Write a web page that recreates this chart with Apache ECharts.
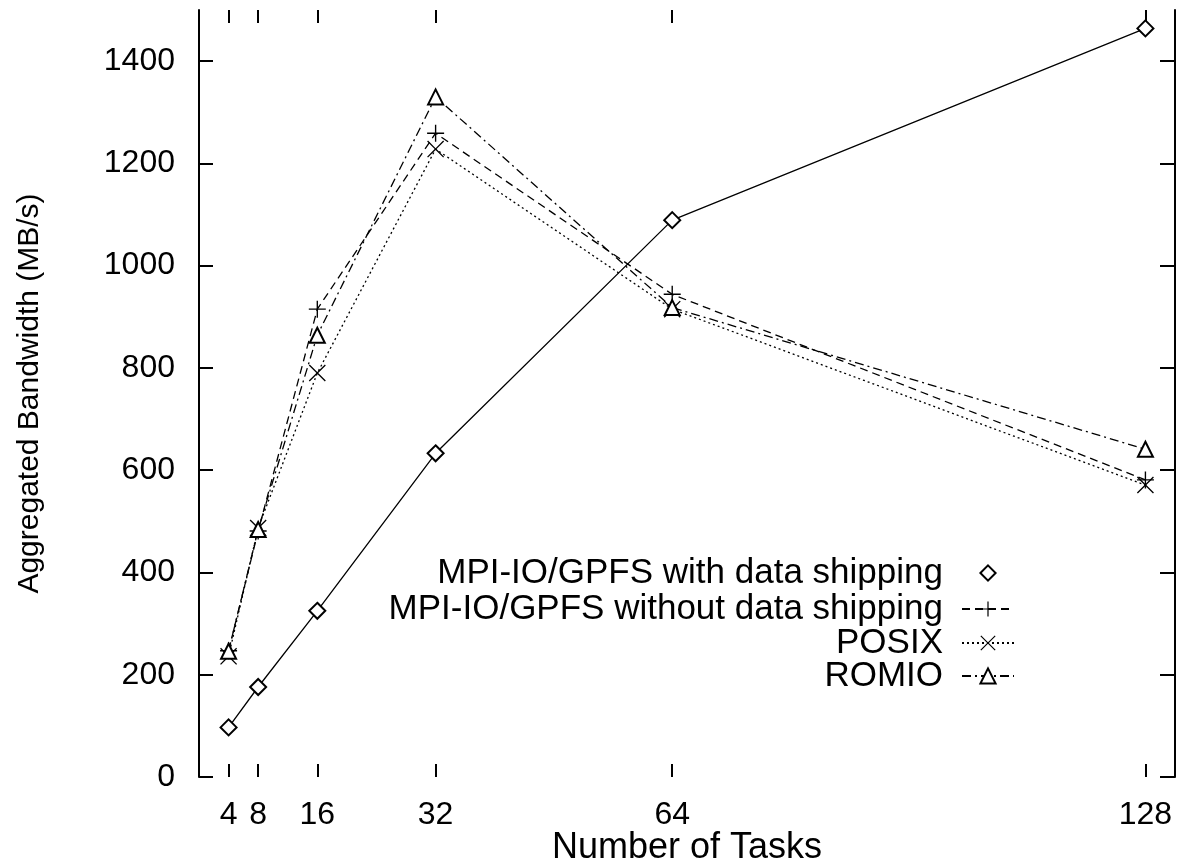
<!DOCTYPE html>
<html>
<head>
<meta charset="utf-8">
<script src="https://cdn.jsdelivr.net/npm/echarts@6/dist/echarts.min.js"></script>
<style>
html,body{margin:0;padding:0;background:#fff;}
#chart{width:1192px;height:866px;}
</style>
</head>
<body>
<div id="chart"></div>
<script>
// ---- data ----
const tasks = [4, 8, 16, 32, 64, 128];
const yTicks = [0, 200, 400, 600, 800, 1000, 1200, 1400];
const seriesNames = [
  'MPI-IO/GPFS with data shipping',
  'MPI-IO/GPFS without data shipping',
  'POSIX',
  'ROMIO'
];
const withShipping    = [97, 176, 325, 633, 1089, 1464];
const withoutShipping = [247, 481, 915, 1259, 944, 581];
const posix           = [236, 487, 790, 1228, 915, 571];
const romio           = [246, 484, 864, 1330, 918, 641];

const FONT = '"Liberation Sans", Arial, Helvetica, sans-serif';
const plusPath = 'path://M9.2,0H10.8V9.2H20V10.8H10.8V20H9.2V10.8H0V9.2H9.2Z';
const crossPath = 'path://M0,1.1L1.1,0L10,8.9L18.9,0L20,1.1L11.1,10L20,18.9L18.9,20L10,11.1L1.1,20L0,18.9L8.9,10Z';

function pairs(vals) { return tasks.map((t, i) => [t, vals[i]]); }

const chart = echarts.init(document.getElementById('chart'), null, {renderer: 'canvas'});

function mkSeries(name, vals, symbol, size, dash) {
  return {
    name: name,
    type: 'line',
    xAxisIndex: 0,
    yAxisIndex: 0,
    data: pairs(vals),
    symbol: symbol,
    symbolSize: size,
    showAllSymbol: true,
    color: '#000',
    itemStyle: {color: '#000', borderWidth: 1.4},
    lineStyle: {color: '#000', width: 1.3, type: dash},
    emphasis: {disabled: true},
    z: 3
  };
}

const legendTops = [553, 589, 623, 656];
const legends = seriesNames.map((n, i) => ({
  data: [i === 0 ? {name: n, lineStyle: {opacity: 0}} : {name: n}],
  right: 177,
  top: legendTops[i],
  align: 'right',
  orient: 'vertical',
  padding: 0,
  itemWidth: 52,
  itemHeight: 19,
  selectedMode: false,
  textStyle: {fontFamily: FONT, fontSize: 35, color: '#000', lineHeight: 40, padding: [0, 14, 0, 0]}
}));

const tickStyle = {color: '#000', width: 2};

const option = {
  animation: false,
  backgroundColor: '#fff',
  grid: {left: 199, right: 17, top: 10, bottom: 89, containLabel: false, outerBoundsMode: 'none'},
  legend: legends,
  xAxis: [{
    type: 'value', min: 0, max: 132, position: 'bottom',
    name: 'Number of Tasks', nameLocation: 'middle', nameGap: 53, nameMoveOverlap: false,
    nameTextStyle: {fontFamily: FONT, fontSize: 36, color: '#000'},
    axisLine: {show: false, onZero: false},
    axisTick: {show: true, inside: true, length: 13, customValues: tasks, lineStyle: tickStyle},
    axisLabel: {customValues: tasks, fontFamily: FONT, fontSize: 32, color: '#000', margin: 22},
    splitLine: {show: false}
  }, {
    type: 'value', min: 0, max: 132, position: 'top',
    axisLine: {show: false, onZero: false},
    axisTick: {show: true, inside: true, length: 13, customValues: tasks, lineStyle: tickStyle},
    axisLabel: {show: false},
    splitLine: {show: false}
  }],
  yAxis: [{
    type: 'value', min: 0, max: 1500, position: 'left',
    name: 'Aggregated Bandwidth (MB/s)', nameLocation: 'middle', nameGap: 154, nameRotate: 90,
    nameMoveOverlap: false,
    nameTextStyle: {fontFamily: FONT, fontSize: 30, color: '#000'},
    axisLine: {show: true, onZero: false, lineStyle: {color: '#000', width: 2}},
    axisTick: {show: true, inside: true, length: 14, customValues: yTicks, lineStyle: tickStyle},
    axisLabel: {customValues: yTicks, fontFamily: FONT, fontSize: 32, color: '#000', margin: 24,
                formatter: v => String(v)},
    splitLine: {show: false}
  }, {
    type: 'value', min: 0, max: 1500, position: 'right',
    axisLine: {show: true, onZero: false, lineStyle: {color: '#000', width: 2}},
    axisTick: {show: true, inside: true, length: 15, customValues: yTicks, lineStyle: tickStyle},
    axisLabel: {show: false},
    splitLine: {show: false}
  }],
  series: [
    mkSeries(seriesNames[0], withShipping, 'emptyDiamond', 16, 'solid'),
    mkSeries(seriesNames[1], withoutShipping, plusPath, 17, [8, 5]),
    mkSeries(seriesNames[2], posix, crossPath, 17, [2, 3]),
    mkSeries(seriesNames[3], romio, 'emptyTriangle', 15, [9, 4, 2, 4])
  ]
};
chart.setOption(option);
</script>
</body>
</html>
